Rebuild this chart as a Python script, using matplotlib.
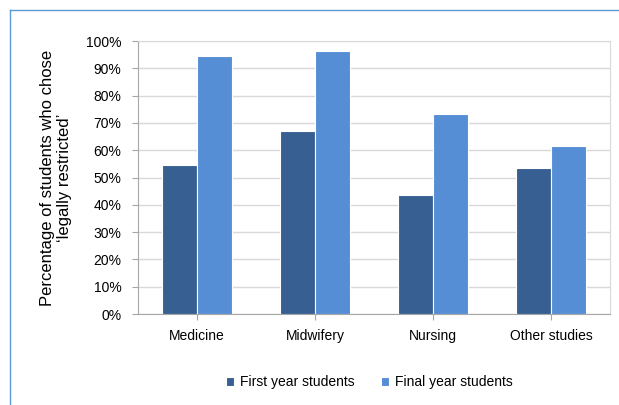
import numpy as np
import matplotlib
matplotlib.use("Agg")
import matplotlib.pyplot as plt
from matplotlib.lines import Line2D
from matplotlib.ticker import PercentFormatter

plt.rcParams["font.family"] = ["Liberation Sans", "DejaVu Sans"]

# Share of students choosing 'legally restricted', by programme
categories = ["Medicine", "Midwifery", "Nursing", "Other studies"]
first_year = [54.6, 67.0, 43.7, 53.6]
final_year = [94.6, 96.2, 73.1, 61.5]
series_names = ["First year students", "Final year students"]

DARK = "#375F92"
LIGHT = "#558ED5"
GRID = "#D9D9D9"

fig = plt.figure(figsize=(6.19, 4.05), dpi=100)
ax = fig.add_axes([138 / 619, 1 - 314 / 405, 472 / 619, 273 / 405])

x = np.arange(len(categories))
w = 0.3
ax.bar(x - w / 2, first_year, w, color=DARK, edgecolor="white", linewidth=0.8,
       label=series_names[0], zorder=3)
ax.bar(x + w / 2, final_year, w, color=LIGHT, edgecolor="white", linewidth=0.8,
       label=series_names[1], zorder=3)

ax.set_xlim(-0.5, len(categories) - 0.5)
ax.set_ylim(0, 100)
ax.set_yticks(np.arange(0, 101, 10))
ax.yaxis.set_major_formatter(PercentFormatter(decimals=0))
ax.set_xticks(x)
ax.set_xticklabels(categories, fontsize=10)
ax.tick_params(axis="y", labelsize=10, length=4, color="#A6A6A6", pad=8)
ax.tick_params(axis="x", length=4, color="#A6A6A6", pad=7)
ax.grid(True, axis="y", color=GRID, linewidth=1, zorder=0)

for side in ["top", "right"]:
    ax.spines[side].set_color(GRID)
for side in ["left", "bottom"]:
    ax.spines[side].set_color("#A6A6A6")

ax.set_ylabel("Percentage of students who chose\n\u2018legally restricted\u2019",
              fontsize=12, labelpad=10, linespacing=1.2)

ax.legend(loc="center", bbox_to_anchor=(369 / 619, 1 - 382 / 405),
          bbox_transform=fig.transFigure, ncol=2, frameon=False, fontsize=10,
          handlelength=0.6, handleheight=0.6, columnspacing=1.9, handletextpad=0.4)

# thin blue frame on the left and top edges
border = "#5B9BD5"
fig.add_artist(Line2D([10 / 619, 10 / 619], [0, 1 - 10 / 405], color=border, linewidth=1))
fig.add_artist(Line2D([10 / 619, 1], [1 - 10 / 405, 1 - 10 / 405], color=border, linewidth=1))

fig.savefig("out.png", dpi=100)
